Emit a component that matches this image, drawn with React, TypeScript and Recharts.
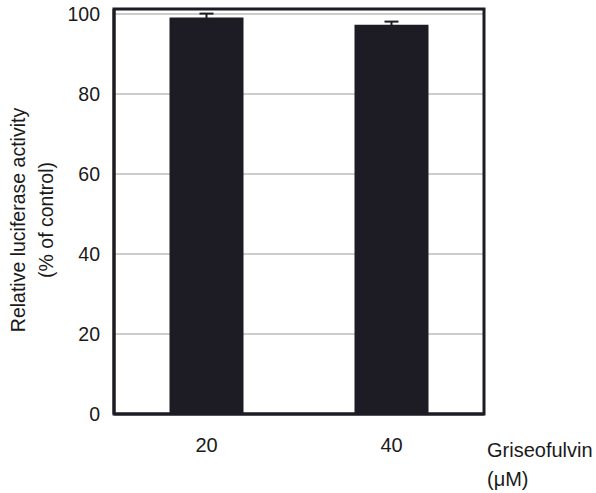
import React from 'react';
import { BarChart, Bar, XAxis, YAxis, CartesianGrid, ErrorBar, Label, ReferenceArea } from 'recharts';

const doses = ['20', '40'];
const activity = [99.1, 97.3];
const errors = [1.0, 0.8];
const yTicks = [0, 20, 40, 60, 80, 100];

const data = doses.map((dose, i) => ({ dose, activity: activity[i], err: errors[i] }));

const FONT = '"Liberation Sans", Arial, sans-serif';
const INK = '#1d1b24';
const TEXT = '#1a1a1a';
const TOP = 101.25;

const YLabel = () => (
  <g fontFamily={FONT} fontSize={19.5} fill={TEXT}>
    <text x={18} y={220} transform="rotate(-90 18 220)" textAnchor="middle" dominantBaseline="central">
      Relative luciferase activity
    </text>
    <text x={46} y={220} transform="rotate(-90 46 220)" textAnchor="middle" dominantBaseline="central">
      (% of control)
    </text>
  </g>
);

const XLabel = () => (
  <g fontFamily={FONT} fontSize={20} fill={TEXT}>
    <text x={487} y={457}>Griseofulvin</text>
    <text x={487} y={486}>(μM)</text>
  </g>
);

const App = () => (
  <div style={{ position: 'absolute', left: 0, top: 0, background: '#fff' }}>
    <BarChart width={596} height={493} data={data}
      margin={{ top: 9, right: 112, bottom: 0, left: 0 }}
      barCategoryGap="30%">
      <CartesianGrid vertical={false} stroke="#9a9a9a" strokeWidth={1} />
      <XAxis dataKey="dose" height={79} tickLine={false} tickMargin={18}
        fontSize={20} fontFamily={FONT}
        axisLine={{ stroke: INK, strokeWidth: 3 }}
        tick={{ fontFamily: FONT, fontSize: 20, fill: TEXT }}>
        <Label content={<XLabel />} />
      </XAxis>
      <YAxis domain={[0, TOP]} ticks={yTicks} width={114} tickLine={false} tickMargin={8}
        interval={0} allowDataOverflow fontSize={19.5} fontFamily={FONT}
        axisLine={{ stroke: INK, strokeWidth: 3 }}
        tick={{ fontFamily: FONT, fontSize: 19.5, fill: TEXT }}>
        <Label content={<YLabel />} />
      </YAxis>
      <Bar dataKey="activity" fill={INK} isAnimationActive={false}>
        <ErrorBar dataKey="err" width={7} stroke={INK} strokeWidth={2} />
      </Bar>
      <ReferenceArea y1={0} y2={TOP} fill="none" stroke={INK} strokeWidth={3} fillOpacity={0} ifOverflow="visible" />
    </BarChart>
  </div>
);

export default App;
